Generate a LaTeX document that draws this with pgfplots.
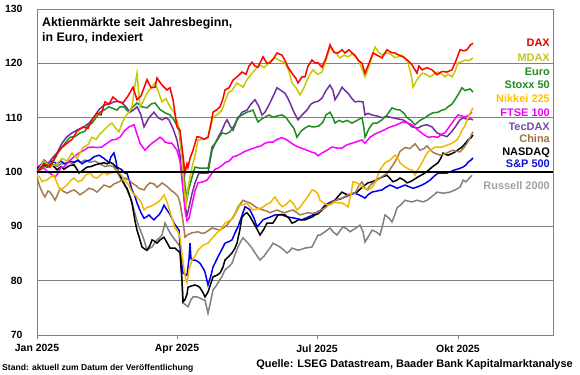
\documentclass[border=0pt]{standalone}
\usepackage{fontspec}
\setmainfont{Liberation Sans}
\usepackage{pgfplots}
\pgfplotsset{compat=1.18}
\definecolor{cDAX}{HTML}{FF0000}
\definecolor{cMDAX}{HTML}{C8C800}
\definecolor{cESX}{HTML}{1E8C1E}
\definecolor{cNIK}{HTML}{F2B800}
\definecolor{cFTSE}{HTML}{FF00FF}
\definecolor{cTEC}{HTML}{7030A0}
\definecolor{cCHN}{HTML}{A57A4F}
\definecolor{cNDQ}{HTML}{000000}
\definecolor{cSPX}{HTML}{0000F0}
\definecolor{cRUS}{HTML}{808080}
\definecolor{lDAX}{HTML}{E00000}
\definecolor{lMDAX}{HTML}{C4C420}
\definecolor{lESX}{HTML}{228B22}
\definecolor{lNIK}{HTML}{FFC000}
\definecolor{lFTSE}{HTML}{F000F0}
\definecolor{lTEC}{HTML}{7050A0}
\definecolor{lCHN}{HTML}{A0703C}
\definecolor{lSPX}{HTML}{1010D0}
\definecolor{lRUS}{HTML}{A0A0A0}
\begin{document}
\begin{tikzpicture}
\begin{axis}[
  scale only axis, width=516bp, height=326bp,
  xmin=37, xmax=553, ymin=70, ymax=130,
  axis line style={draw=gray, line width=0.8bp},
  xtick={37,177,317,458},
  xticklabels={Jan 2025,Apr 2025,Jul 2025,Okt 2025},
  ytick={70,80,...,130},
  ymajorgrids, grid style={gray, line width=0.7bp},
  xtick pos=bottom, ytick pos=left,
  tick align=outside, major tick length=4bp,
  xtick style={draw=gray, line width=0.8bp},
  ytick style={draw=none},
  /pgf/number format/assume math mode=true,
  tick label style={font=\bfseries\fontsize{10.5}{12}\selectfont},
  yticklabel style={xshift=-7bp},
  xticklabel style={yshift=-2bp},
  clip=true,
]
\addplot[cRUS, line width=1.5bp] coordinates {(37,100) (40,100.8) (44,101.3) (48,101) (52,101.5) (57,101) (61,101.5) (65,101.5) (69,101.8) (73,101.5) (77,102) (81,101.8) (85,102.2) (90,101.8) (95,102) (100,101.5) (105,101) (110,101.2) (114,100.9) (117,100) (120,99) (124,98) (127,96.7) (131,95) (134,93) (137,91) (139,89.9) (142,88.5) (144,87.5) (147,85.6) (150,86) (152,86.2) (155,87) (157,87.5) (160,88) (162,88.4) (165,90.6) (168,89.5) (170,88.8) (173,88) (175,87.5) (178,86.8) (180,86.2) (182,80) (183,75.9) (186,75.5) (188,75.2) (191,76.5) (193,77) (197,77) (200,76.8) (203,76.5) (205,76.4) (208,74) (211,76.5) (213,78.3) (216,79) (218,79.6) (222,80.8) (225,82) (229,82.6) (232,83.2) (235,84.8) (238,86.2) (241,87.3) (243,87.9) (246,87.3) (248,86.9) (252,86) (255,85.1) (258,84.3) (260,83.8) (264,84.5) (267,85.3) (270,86) (273,86.9) (277,86.5) (280,86.2) (284,85.6) (287,85.1) (290,85.5) (292,86) (295,85.8) (298,85.6) (302,85.8) (305,86) (309,86.1) (312,86.2) (315,87.3) (318,88.4) (320,88.4) (325,89) (330,89.7) (333,89) (337,88.4) (340,89.2) (343,89.9) (347,89.5) (350,89) (355,89.6) (360,90.2) (363,89) (365,87.1) (369,88.3) (372,89.3) (376,89) (380,88.4) (383,90.5) (385,92.1) (389,91.5) (392,90.8) (395,92.2) (397,93.4) (401,94) (405,94.8) (409,94.6) (412,94.5) (417,94.8) (423,94.5) (427,94.8) (430,95.2) (434,95.8) (437,96.3) (440,96.2) (443,96.1) (447,96.2) (450,96.3) (455,96.7) (460,97.2) (463,98.5) (466,98.2) (469,98.8) (472,99.4)};
\addplot[cSPX, line width=1.5bp] coordinates {(37,100.7) (40,101.2) (44,101.7) (47,101.5) (51,102) (54,101.8) (57,101.5) (61,102) (65,101.5) (70,102) (74,101.8) (78,102.2) (82,101.5) (86,102) (90,102.2) (94,102.8) (99,103.1) (104,102.5) (109,101.7) (111,102.8) (114,103.5) (116,102) (117,100.9) (121,100.5) (125,99.8) (127,99.8) (130,98) (132,96.7) (135,95.5) (137,94.3) (141,92.5) (144,91.5) (147,91.8) (149,92.1) (152,91.5) (154,91.2) (157,91.8) (159,92.1) (162,93) (164,93.9) (167,93) (169,92.5) (172,91.5) (174,90.6) (177,89.8) (179,89.3) (181,84) (183,81.4) (185,81.2) (187,81) (189,84) (190,86.9) (191,84) (193,83.8) (195,83.8) (198,83.5) (200,83.2) (203,82.3) (205,81.6) (208,79.2) (211,81) (213,82.5) (218,84.4) (222,85.8) (225,86.9) (229,87.2) (232,87.5) (235,88.8) (238,89.9) (242,92) (245,93.6) (248,93.3) (250,93) (254,91.5) (257,89.9) (260,90.5) (263,91.2) (267,91.5) (270,91.7) (275,92.1) (282,92.1) (288,91.7) (295,91.5) (302,91.2) (308,91.7) (312,92) (317,92.6) (321,93) (325,93.9) (330,94.4) (335,94.8) (340,95) (345,95.4) (350,95.8) (355,96.1) (360,95.7) (365,95.2) (368,95.8) (372,96.3) (377,96.5) (382,96.7) (386,97.2) (390,97.6) (394,97.3) (397,97) (401,97.3) (405,97.6) (409,97.3) (413,97) (418,97.3) (422,97.6) (426,98) (430,98.5) (434,99.2) (438,99.8) (442,99.8) (447,99.8) (451,100.1) (455,100.4) (459,100.6) (463,100.9) (466,101.3) (468,101.8) (471,102.2) (473,102.6)};
\addplot[cNDQ, line width=1.5bp] coordinates {(37,100.4) (40,101) (43,101.5) (47,100.9) (51,101.5) (55,100.8) (57,100.4) (61,101) (64,100.5) (67,100.9) (70,101.2) (74,101.3) (77,100.5) (79,99.8) (82,100.2) (87,100.9) (91,101) (95,101.3) (99,101.5) (104,101.7) (107,101.5) (110,101.8) (113,101.5) (117,100.7) (120,99.5) (122,98.5) (125,97.5) (127,97) (130,95.5) (132,94.3) (135,91) (137,89.3) (140,87.5) (142,86.2) (145,85.8) (147,85.6) (150,86.5) (152,87.5) (155,87.2) (157,86.9) (160,87.5) (164,88) (167,87) (170,86) (173,86) (175,86) (178,85.5) (180,85.1) (182,80) (183,76.1) (185,76.5) (187,77.5) (188,78.8) (191,79) (195,79.2) (198,79) (200,78.7) (203,77.8) (205,77) (208,77.9) (210,79) (213,80.7) (217,81) (220,81.4) (223,82.5) (225,83.8) (229,84.5) (232,85.1) (235,86) (237,86.9) (240,89.5) (242,91.7) (245,92.3) (247,92.5) (250,91.8) (253,90.8) (257,89.5) (260,88.4) (264,89.5) (267,90.6) (270,90.6) (273,90.6) (276,91.5) (278,92.1) (282,92.2) (285,92.1) (289,91.5) (292,90.6) (295,90.8) (298,91.2) (302,91.2) (305,91.2) (309,91.5) (312,91.7) (315,92.1) (318,92.3) (322,93) (325,93.6) (330,94.2) (335,94.8) (338,95.5) (342,96.3) (345,96) (348,95.8) (352,96) (357,96.3) (361,97) (365,97.6) (368,98) (372,98.2) (376,98.5) (380,98.9) (384,99.2) (387,99.4) (390,98.8) (393,98.2) (397,98.5) (400,98.9) (404,98.5) (407,98) (410,98.2) (413,98.5) (418,99.1) (422,99.5) (425,99.8) (429,100.4) (432,100.9) (435,101.3) (438,101.7) (441,102.6) (443,103.5) (446,103.2) (448,103.1) (452,103.4) (455,103.7) (459,104.2) (462,104.6) (465,105.2) (468,105.9) (471,106.3) (473,106.8)};
\addplot[cCHN, line width=1.5bp] coordinates {(37,99) (40,97.2) (43,96) (45,95.4) (48,96.5) (50,96.3) (53,95.5) (55,94.8) (58,96) (60,97) (63,96.5) (67,96.1) (71,96.5) (74,96.7) (77,96.3) (80,95.8) (84,96.3) (89,97) (93,96.8) (97,96.3) (101,97) (104,97.6) (107,97.4) (110,97.2) (114,97.8) (119,98.2) (122,98.5) (125,98.9) (129,98.5) (132,98) (136,97.5) (139,97) (144,96.7) (147,97.5) (150,98) (154,97.8) (157,97.2) (160,97.6) (162,98) (166,97.5) (169,97) (172,96.5) (175,96.1) (178,95.5) (180,94.3) (183,91) (185,88) (188,88.5) (192,88.8) (195,88.9) (198,89) (202,88.7) (205,88.8) (209,89.3) (212,89.7) (216,89.5) (220,89.3) (224,89.8) (227,90.2) (230,91) (233,91.7) (236,92.7) (238,93.6) (241,94.3) (243,94.8) (247,94.5) (250,94.3) (254,93.8) (257,93.4) (260,93.2) (263,93) (267,92.8) (270,92.5) (274,92.8) (277,93) (281,92.7) (285,92.5) (289,92.8) (293,93) (297,92.5) (300,92.1) (304,92.3) (308,92.5) (312,92.4) (317,92.5) (321,93) (325,93.4) (329,94) (333,94.5) (338,95) (342,95.2) (345,95.5) (348,95.8) (352,96) (355,96.1) (359,97.5) (362,98.2) (365,97) (367,96.7) (370,97.5) (373,98) (377,98.5) (380,98.9) (384,99.4) (387,99.8) (390,100.5) (393,101.3) (397,102.5) (400,103.8) (405,104.5) (410,104.3) (415,105.2) (420,104) (424,104.3) (427,104.8) (430,104.2) (433,103.6) (437,103.3) (440,103.1) (444,103.3) (447,103.5) (450,103.8) (453,104) (457,103.8) (460,103.7) (464,104.5) (467,105.3) (470,106.3) (473,107.4)};
\addplot[cTEC, line width=1.5bp] coordinates {(37,100) (40,101) (44,102.2) (48,101.5) (52,102.5) (57,103.5) (62,105.3) (67,106.5) (72,107.2) (78,107.8) (84,108.3) (89,109) (94,110.1) (99,111.5) (104,112.3) (109,112.5) (114,112.9) (118,113) (122,112.7) (126,112) (130,111) (134,111.5) (137,112) (141,110.5) (144,108.3) (149,110) (154,111) (158,110) (162,109.6) (166,110) (169,109.6) (173,108) (177,105.9) (180,103) (183,97) (185,94) (187,92) (189,93.5) (192,96) (195,98) (199,99.8) (202,99.8) (206,99.8) (208,99.8) (210,102) (212,104) (217,106) (222,107.7) (225,109) (227,109.6) (230,108.5) (233,107.7) (237,109.5) (242,111) (247,111.4) (251,112.5) (255,113.3) (259,112) (262,110.5) (265,111) (268,112) (272,113.5) (277,115.5) (281,115) (285,114.5) (288,113.5) (290,112.7) (294,111) (298,109.6) (302,110.5) (307,111.4) (311,112.5) (315,112.9) (318,113) (322,113.6) (326,115) (330,116) (333,115) (335,113.3) (339,114.5) (342,115.6) (345,115) (348,114.5) (352,113.5) (355,112.9) (359,113) (363,112.9) (365,110.5) (368,110.8) (372,110.5) (377,110.3) (382,110) (387,110.2) (392,110) (397,109.8) (403,109.6) (408,109) (412,108.3) (418,108.1) (422,108.5) (427,108.7) (432,108.3) (437,107.2) (442,106.8) (447,106.5) (452,107.5) (456,108.5) (460,109.6) (464,110) (467,109.6) (470,109.8) (473,109.6)};
\addplot[cFTSE, line width=1.5bp] coordinates {(37,100) (41,100.5) (44,100.7) (48,100) (52,99.5) (55,99) (58,99.8) (61,100.9) (64,100.9) (69,102) (74,102.8) (79,103.5) (84,104) (88,104.5) (92,104.6) (97,104.5) (102,104.6) (107,105.3) (112,105.9) (116,106) (120,106.4) (124,107.5) (129,108.3) (134,108.7) (137,107) (140,105.3) (143,104.5) (145,104) (149,104.8) (152,105.3) (156,105.8) (160,106.4) (163,106) (165,105.5) (169,105.3) (172,105.3) (175,104.5) (177,104) (180,102) (183,97) (185,93) (187,91) (189,91.5) (192,94) (195,96.5) (198,98) (203,98.2) (207,98.5) (212,99.8) (215,100.5) (218,100.7) (222,101.2) (225,101.7) (229,102) (233,102.8) (237,103) (242,103.5) (245,103.8) (248,104) (252,104.3) (257,104.6) (261,104.8) (265,105.3) (269,105.5) (273,105.5) (277,106) (282,106.3) (286,106) (290,105.5) (294,105) (298,104.6) (303,104.3) (307,104) (311,103.7) (315,103.5) (318,103) (322,103.5) (327,104) (332,104.6) (337,104.4) (342,104.4) (347,105) (352,105.3) (357,105.6) (362,105.9) (365,105.3) (370,106.4) (375,107) (380,107.4) (385,107.8) (388,108.1) (392,108.4) (397,108.7) (400,109) (403,109.2) (408,109) (412,108.7) (415,108.2) (418,107.7) (423,107) (428,106.4) (433,106.5) (438,106.4) (442,107) (445,107.2) (448,108) (452,109) (455,109.8) (458,110.5) (462,110.3) (465,110.1) (469,110.5) (472,111)};
\addplot[cNIK, line width=1.5bp] coordinates {(37,99.4) (40,99) (42,98.2) (45,98.5) (47,98.5) (50,99) (54,99.4) (57,98) (60,96.7) (63,97) (67,97.6) (71,98.5) (74,98.9) (78,98.2) (82,98.5) (86,99.5) (90,99.8) (94,99) (97,98.9) (101,99.5) (104,100) (107,99.5) (110,99.8) (114,100) (117,100.4) (121,99.5) (125,98.5) (129,97.5) (132,96.3) (137,95.4) (141,94.5) (144,93) (147,93.5) (150,93.6) (154,94) (157,94.3) (161,95) (164,95.8) (167,94.5) (170,92.6) (173,91) (175,89.7) (178,89) (180,88) (182,85) (184,82) (186,80) (187,79.6) (189,82) (192,83.8) (195,84.5) (198,85.6) (203,86.5) (208,86.9) (212,87.8) (217,88.8) (221,89.5) (225,90.6) (229,91) (233,91.5) (237,92.8) (240,93.9) (244,94) (247,94.3) (250,93.5) (253,93) (257,93.2) (262,93.4) (266,94) (270,94.3) (273,95) (275,95.4) (278,94.5) (282,93.6) (286,94) (290,94.8) (294,94) (297,93) (300,93.5) (303,94.3) (308,95.5) (312,96.7) (315,96.5) (318,96) (320,94.8) (324,94.3) (328,93.9) (331,94) (335,94.5) (338,94.3) (342,94.3) (345,94) (348,93.6) (351,96) (353,98.2) (357,98) (360,97.6) (364,97) (368,96.7) (372,97.2) (375,98) (378,99.5) (380,100.4) (385,101.7) (390,102.2) (395,103.1) (398,102.5) (400,101.7) (405,100.9) (409,100.5) (412,100.4) (415,99.4) (418,100.5) (422,101.7) (425,102.8) (428,103.7) (432,104.2) (435,104.6) (438,104.6) (442,104.6) (445,104.8) (448,105) (452,105.3) (457,105.9) (460,106.8) (462,107.7) (465,108.5) (467,109.6) (470,110.8) (473,111.8)};
\addplot[cESX, line width=1.5bp] coordinates {(37,100) (44,101) (50,100.9) (55,102.5) (58,103.5) (62,104.6) (66,105.5) (70,106.4) (75,106.5) (80,107.2) (85,107.5) (88,108.5) (92,109) (96,110) (100,111) (105,111.5) (109,112) (113,111.7) (117,111.4) (120,112) (124,112) (129,111) (133,112) (137,112.7) (142,112) (147,111.8) (151,112.5) (155,112.7) (160,111.5) (165,110.9) (170,110.5) (174,109.6) (179,107.7) (182,103) (185,97.5) (187,95) (189,97) (192,99) (195,100.9) (200,100.7) (204,100.7) (208,100.7) (210,102.5) (212,104.6) (216,105.5) (222,107.2) (226,107) (230,107.4) (234,108.5) (238,110.1) (242,110.5) (247,111) (250,111.2) (253,111.4) (256,110) (258,109.2) (262,109.8) (265,110.1) (269,110.5) (273,110.1) (277,110.3) (282,110.5) (286,110) (290,109) (294,108) (297,106.4) (301,107.5) (305,108.1) (309,108.5) (312,108.3) (315,108.3) (319,108.5) (323,109.2) (326,110.5) (330,111) (333,110) (335,109) (339,109.5) (343,109.2) (347,109.5) (352,109) (357,109.5) (362,110) (364,108) (365,106.4) (369,108) (373,109) (377,109) (382,109.6) (387,110.5) (392,111.8) (396,111.5) (400,111.4) (404,110.8) (407,110) (411,109.5) (415,108.7) (420,109.5) (425,110) (429,110.5) (433,110.9) (438,111) (442,111.4) (445,111.5) (448,112) (452,112.5) (455,113.3) (459,114.5) (462,115.5) (465,115) (467,115.1) (470,115.3) (473,114.7)};
\addplot[cMDAX, line width=1.5bp] coordinates {(37,100) (44,102) (50,101) (57,101.5) (62,102.5) (67,102) (72,103.5) (77,102.5) (83,104.5) (88,105) (92,106.4) (96,106) (100,107) (104,107.7) (108,108.5) (112,109) (116,108) (119,107.4) (122,109) (125,110.1) (129,111) (132,112) (135,116) (137,118.2) (140,112) (143,113) (147,114.5) (151,115.5) (155,116.4) (158,115) (162,112.9) (166,113.5) (170,112) (174,111) (179,108.3) (182,103) (184,97.2) (186,94) (188,97) (190,99) (192,100.9) (195,103) (198,105.9) (203,106) (208,106.4) (211,108.5) (213,110.1) (217,110.5) (222,111.4) (225,113) (228,114.5) (232,115) (237,116.4) (240,116) (243,115.6) (247,117) (252,118.2) (256,119) (260,119.7) (264,119.2) (267,119.7) (271,120.5) (275,121) (280,120.5) (285,120.1) (289,118.5) (292,116.4) (296,115.5) (300,114.2) (304,115.5) (307,116.9) (310,118) (313,118.8) (315,118.4) (318,118) (322,118.4) (326,120.5) (330,123) (335,122) (340,121) (344,121.5) (348,121.2) (352,121.7) (357,121) (361,119.5) (365,117.5) (370,120) (375,123) (379,122) (382,121.5) (385,121.9) (388,121.9) (392,121.5) (395,121) (399,121.3) (402,121.5) (405,121) (408,120.1) (411,118) (413,115.6) (417,117) (422,118.2) (426,118) (430,117.5) (434,118) (438,118.4) (442,118) (445,117.5) (448,118) (452,117.5) (455,118.5) (458,120.1) (462,120.3) (465,120.6) (469,120.5) (473,121)};
\addplot[cDAX, line width=1.5bp] coordinates {(37,100) (44,101.5) (50,101) (57,103.5) (62,104.5) (67,105.3) (72,106) (77,107.5) (83,108.3) (88,108) (92,109.6) (97,110.9) (101,110.5) (105,112.9) (109,112.5) (113,113.8) (118,113) (123,112.7) (128,114) (133,115.6) (137,113.3) (141,114) (147,117) (151,115.5) (155,115.6) (157,117.3) (162,116) (167,115.1) (170,115.5) (173,113.3) (177,108.3) (180,107.7) (183,103) (185,99.8) (187,101.5) (188,100.9) (190,102.5) (193,104) (197,106.5) (200,106.4) (204,106) (208,106.4) (211,109) (213,111) (217,111.5) (220,112) (223,113.5) (225,115.1) (229,115.5) (233,116.9) (237,117.5) (242,118.4) (246,118) (249,119.5) (252,120.2) (255,119.5) (258,119.3) (263,121.2) (267,120) (270,120.1) (274,121) (277,121.9) (282,121.5) (285,120.5) (288,119.3) (293,117.9) (296,117.2) (298,116.4) (302,117.5) (305,117.5) (308,119.5) (312,120.6) (315,120.1) (318,120.1) (322,119.3) (326,121) (330,123.4) (334,122) (338,121.9) (342,122.5) (345,121.9) (349,122.5) (352,121.9) (355,121.5) (358,120.6) (362,120) (365,118.2) (369,120) (373,121.9) (377,121.5) (382,121) (387,122.5) (391,122) (395,121.9) (399,121.5) (403,121.2) (408,120.5) (412,119.7) (417,118.2) (419,119.5) (422,118.8) (427,119.2) (432,118.8) (437,117.9) (442,118.5) (447,118.4) (452,118.8) (456,120.5) (460,122.5) (464,122.3) (467,122.5) (470,123.3) (473,123.7)};
\addplot[black, line width=1.6bp] coordinates {(37,100) (553,100)};
\end{axis}
% text in picture coordinates: pixel (px,py) -> (px-37, 335-py) bp
\begin{scope}[every node/.style={inner sep=0pt, font=\bfseries\fontsize{12.4}{14}\selectfont}]
\node[anchor=base west] at (5bp,308.3bp) {Aktienmärkte seit Jahresbeginn,};
\node[anchor=base west] at (5bp,293.3bp) {in Euro, indexiert};
\end{scope}
\begin{scope}[every node/.style={inner sep=0pt, anchor=base east, font=\bfseries\fontsize{11}{13}\selectfont}]
\node[text=lDAX]  at (513bp,288bp) {DAX};
\node[text=lMDAX] at (513bp,273bp) {MDAX};
\node[text=lESX]  at (513bp,259bp) {Euro};
\node[text=lESX]  at (513bp,246bp) {Stoxx 50};
\node[text=lNIK]  at (513bp,232bp) {Nikkei 225};
\node[text=lFTSE] at (513bp,218bp) {FTSE 100};
\node[text=lTEC]  at (513bp,204bp) {TecDAX};
\node[text=lCHN]  at (513bp,192bp) {China};
\node[text=black] at (513bp,179bp) {NASDAQ};
\node[text=lSPX]  at (513bp,167bp) {S\&P 500};
\node[text=lRUS]  at (513bp,145bp) {Russell 2000};
\end{scope}
\node[inner sep=0pt, anchor=base east, font=\bfseries\fontsize{11}{13}\selectfont] at (536bp,-32bp) {Quelle: LSEG Datastream, Baader Bank Kapitalmarktanalyse};
\node[inner sep=0pt, anchor=base west, font=\bfseries\fontsize{8.6}{10}\selectfont] at (-35bp,-35bp) {Stand: aktuell zum Datum der Veröffentlichung};
\pgfresetboundingbox
\useasboundingbox (-37bp,-40bp) rectangle (543bp,335bp);
\end{tikzpicture}
\end{document}
